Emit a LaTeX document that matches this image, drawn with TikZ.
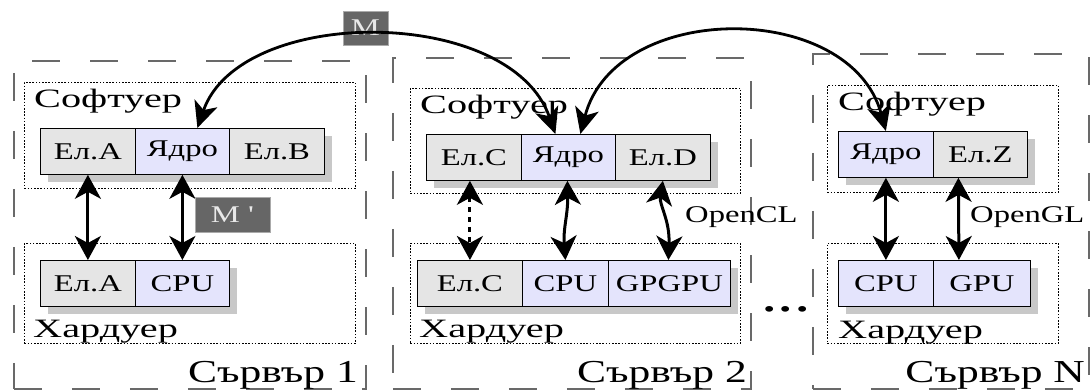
\documentclass[tikz,border=0pt]{standalone}
\usepackage{fontspec}
\setmainfont{Liberation Serif}[FakeStretch=1.36]
\newfontfamily\layerfont{Liberation Serif}[FakeStretch=1.52]
\newfontfamily\tagfont{Liberation Serif}[FakeStretch=1.36]
\usetikzlibrary{arrows.meta,shadows}

\definecolor{elgray}{RGB}{229,229,229}
\definecolor{elblue}{RGB}{228,228,252}
\definecolor{shade}{RGB}{200,200,200}
\definecolor{framegray}{RGB}{105,105,105}
\definecolor{tagfill}{RGB}{102,102,102}
\definecolor{tagedge}{RGB}{170,170,170}
\definecolor{tagtext}{RGB}{232,232,232}

\tikzset{
  txt/.style={font=\fontsize{24}{28}\selectfont},
  layertxt/.style={font=\layerfont\fontsize{26.5}{30}\selectfont, anchor=base west, inner sep=0pt},
  unit/.style={txt, draw=black, line width=0.8pt, minimum height=46pt, inner sep=0pt,
    anchor=north west,
    drop shadow={shadow xshift=8pt, shadow yshift=-8pt, fill=shade, opacity=1}},
  grayunit/.style={unit, fill=elgray},
  blueunit/.style={unit, fill=elblue},
  server/.style={draw=framegray, line width=1.5pt, dash pattern=on 28pt off 30pt,
    inner sep=0pt, anchor=north west},
  layer/.style={draw=black, line width=0.8pt, dash pattern=on 1.6pt off 1.6pt,
    inner sep=0pt, anchor=north west},
  tag/.style={font=\tagfont\fontsize{24}{28}\selectfont, fill=tagfill, draw=tagedge,
    line width=0.8pt, text=tagtext, inner sep=0pt},
  head/.tip={Stealth[length=24pt,width=26pt,inset=7pt]},
  link/.style={line width=3pt, head-head},
  mhead/.tip={Stealth[length=26pt,width=24pt,inset=7pt]},
  migrate/.style={line width=2.8pt, mhead-mhead},
}

\begin{document}
\begin{tikzpicture}[x=1pt,y=-1pt]
\useasboundingbox (0,0) rectangle (1090,389);

% server frames
\node[server, minimum width=352pt, minimum height=328pt] (srv1) at (13,60) {};
\node[server, minimum width=358pt, minimum height=331pt] (srv2) at (392,57) {};
\node[server, minimum width=276pt, minimum height=335pt] (srvN) at (812,53) {};

% software / hardware layers
\node[layer, minimum width=331pt, minimum height=106pt] (sw1) at (24,82) {};
\node[layer, minimum width=331pt, minimum height=100pt] (hw1) at (24,243) {};
\node[layer, minimum width=330pt, minimum height=105pt] (sw2) at (410,88) {};
\node[layer, minimum width=330pt, minimum height=100pt] (hw2) at (410,243) {};
\node[layer, minimum width=231pt, minimum height=107pt] (swN) at (827,85) {};
\node[layer, minimum width=231pt, minimum height=100pt] (hwN) at (827,243) {};

% layer captions
\node[layertxt] (swl1) at (34,107) {Софтуер};
\node[layertxt] (swl2) at (420,113) {Софтуер};
\node[layertxt] (swlN) at (838,110) {Софтуер};
\node[layertxt] (hwl1) at (33,337) {Хардуер};
\node[layertxt] (hwl2) at (419,337) {Хардуер};
\node[layertxt] (hwlN) at (838,338) {Хардуер};

% server captions
\node[font=\fontsize{32}{36}\selectfont, anchor=base east, inner sep=0pt] (cap1) at (358,382) {Сървър 1};
\node[font=\fontsize{32}{36}\selectfont, anchor=base east, inner sep=0pt] (cap2) at (747,382) {Сървър 2};
\node[font=\fontsize{32}{36}\selectfont, anchor=base east, inner sep=0pt] (capN) at (1085,382) {Сървър N};

% server 1 elements
\node[grayunit, minimum width=95pt] (a1) at (40,128) {Ел.А};
\node[blueunit, minimum width=94pt] (k1) at (135,128) {Ядро};
\node[grayunit, minimum width=95pt] (b1) at (229,128) {Ел.В};
\node[grayunit, minimum width=95pt] (ha1) at (40,260) {Ел.А};
\node[blueunit, minimum width=94pt] (cpu1) at (135,260) {CPU};

% server 2 elements
\node[grayunit, minimum width=95pt] (c2) at (426,134) {Ел.C};
\node[blueunit, minimum width=94pt] (k2) at (521,134) {Ядро};
\node[grayunit, minimum width=95pt] (d2) at (615,134) {Ел.D};
\node[grayunit, minimum width=105pt] (hc2) at (417,260) {Ел.C};
\node[blueunit, minimum width=86pt] (cpu2) at (522,260) {CPU};
\node[blueunit, minimum width=122pt] (gpgpu2) at (608,260) {GPGPU};

% server N elements
\node[blueunit, minimum width=95pt] (kN) at (838,131) {Ядро};
\node[grayunit, minimum width=94pt] (zN) at (933,131) {Ел.Z};
\node[blueunit, minimum width=95pt] (cpuN) at (838,260) {CPU};
\node[blueunit, minimum width=97pt] (gpuN) at (933,260) {GPU};

% software-hardware links
\draw[link] (a1.south) -- (ha1.north);
\draw[link] (k1.south) -- (cpu1.north);
\draw[link, dash pattern=on 5pt off 5pt] (c2.south -| hc2.north) -- (hc2.north);
\draw[link] ([xshift=-1pt]k2.south) .. controls (568,215) and (563,228) .. (cpu2.north);
\draw[link] (d2.south) .. controls (659,205) and (670,220) .. ([xshift=-1pt]gpgpu2.north);
\draw[link] (kN.south) -- (cpuN.north);
\draw[link] ([xshift=-22pt]zN.south) -- ([xshift=-23pt]gpuN.north);

\node[txt, anchor=base west, inner sep=0pt] (ocl) at (685,222) {OpenCL};
\node[txt, anchor=base west, inner sep=0pt] (ogl) at (970,222) {OpenGL};

\node[font=\fontsize{48}{50}\selectfont, anchor=base, inner sep=0pt] (more) at (786,311) {...};

% migration tags
\node[tag, minimum width=45pt, minimum height=34pt] (m) at (365.5,28) {M};
\node[tag, minimum width=75pt, minimum height=35pt] (mp) at (232.5,214.5) {M '};

% migration paths between kernels
\draw[migrate] ([xshift=15pt]k1.north) .. controls (240,5) and (510,5) .. ([xshift=-13pt]k2.north);
\draw[migrate] ([xshift=12pt]k2.north) .. controls (615,0) and (850,0) .. (kN.north);
\end{tikzpicture}
\end{document}
